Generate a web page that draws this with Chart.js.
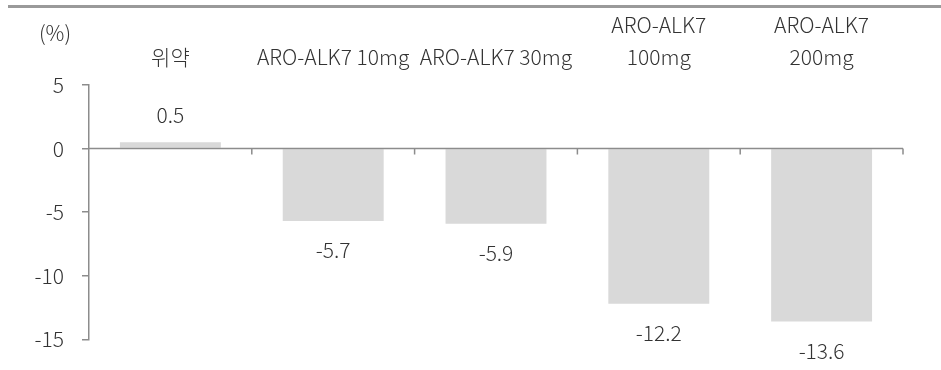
<!DOCTYPE html>
<html>
<head>
<meta charset="utf-8">
<script src="https://cdn.jsdelivr.net/npm/chart.js@4"></script>
<style>
  html, body { margin: 0; padding: 0; background: #fff; }
  .wrap { position: relative; width: 941px; height: 370px; }
  .topline { position: absolute; left: 8px; right: 0; top: 5px; height: 3px; background: #9a9a9a; }
  canvas { position: absolute; left: 0; top: 0; }
</style>
</head>
<body>
<div class="wrap">
  <div class="topline"></div>
  <canvas id="chart" width="941" height="370"></canvas>
</div>
<script>
// ── Data ──────────────────────────────────────────────────
const categories = ['위약', 'ARO-ALK7 10mg', 'ARO-ALK7 30mg', ['ARO-ALK7', '100mg'], ['ARO-ALK7', '200mg']];
const changePct  = [0.5, -5.7, -5.9, -12.2, -13.6];
const yTicks     = [5, 0, -5, -10, -15];

const FONT = "'Noto Sans CJK KR Light', 'Noto Sans CJK KR', 'Noto Sans', sans-serif";
const TEXT = '#333333';
const AXIS = '#8c8c8c';
const SIZE = 21;

// zero line with category ticks, value labels and unit label
const decorations = {
  id: 'decorations',
  afterDatasetsDraw(chart) {
    const { ctx, chartArea, scales } = chart;
    const x = scales.x, y = scales.y;
    const y0 = y.getPixelForValue(0);
    ctx.save();
    ctx.strokeStyle = AXIS;
    ctx.lineWidth = 1.5;
    ctx.beginPath();
    ctx.moveTo(chartArea.left, y0);
    ctx.lineTo(chartArea.right, y0);
    const step = (chartArea.right - chartArea.left) / categories.length;
    for (let i = 1; i <= categories.length; i++) {
      const px = chartArea.left + step * i;
      ctx.moveTo(px, y0);
      ctx.lineTo(px, y0 + 6);
    }
    ctx.stroke();

    ctx.fillStyle = TEXT;
    ctx.font = `300 ${SIZE}px ${FONT}`;
    ctx.textAlign = 'center';
    ctx.textBaseline = 'middle';
    changePct.forEach((v, i) => {
      const px = x.getPixelForValue(i);
      const py = y.getPixelForValue(v);
      ctx.fillText(v.toFixed(1), px, v >= 0 ? py - 27 : py + 29);
    });

    ctx.fillText('(%)', 55, 33);
    ctx.restore();
  }
};

new Chart(document.getElementById('chart'), {
  type: 'bar',
  data: {
    labels: categories,
    datasets: [{
      data: changePct,
      backgroundColor: '#d9d9d9',
      barPercentage: 0.62,
      categoryPercentage: 1
    }]
  },
  options: {
    responsive: false,
    animation: false,
    layout: { padding: { left: 0, right: 38, top: 0, bottom: 27 } },
    plugins: { legend: { display: false }, tooltip: { enabled: false } },
    scales: {
      x: {
        position: 'top',
        grid: { display: false },
        border: { display: false },
        ticks: { color: TEXT, font: { family: FONT, size: SIZE, weight: 300, lineHeight: 1.52 }, padding: 4, maxRotation: 0, autoSkip: false },
        afterFit(scale) { scale.height = 85; }
      },
      y: {
        min: -15,
        max: 5,
        afterBuildTicks(scale) { scale.ticks = yTicks.map(v => ({ value: v })); },
        grid: { drawOnChartArea: false, color: AXIS, tickLength: 7, lineWidth: 1.5 },
        border: { color: AXIS, width: 1.5 },
        ticks: { color: TEXT, font: { family: FONT, size: SIZE, weight: 300 }, padding: 18 },
        afterFit(scale) { scale.width = 89; }
      }
    }
  },
  plugins: [decorations]
});
</script>
</body>
</html>
